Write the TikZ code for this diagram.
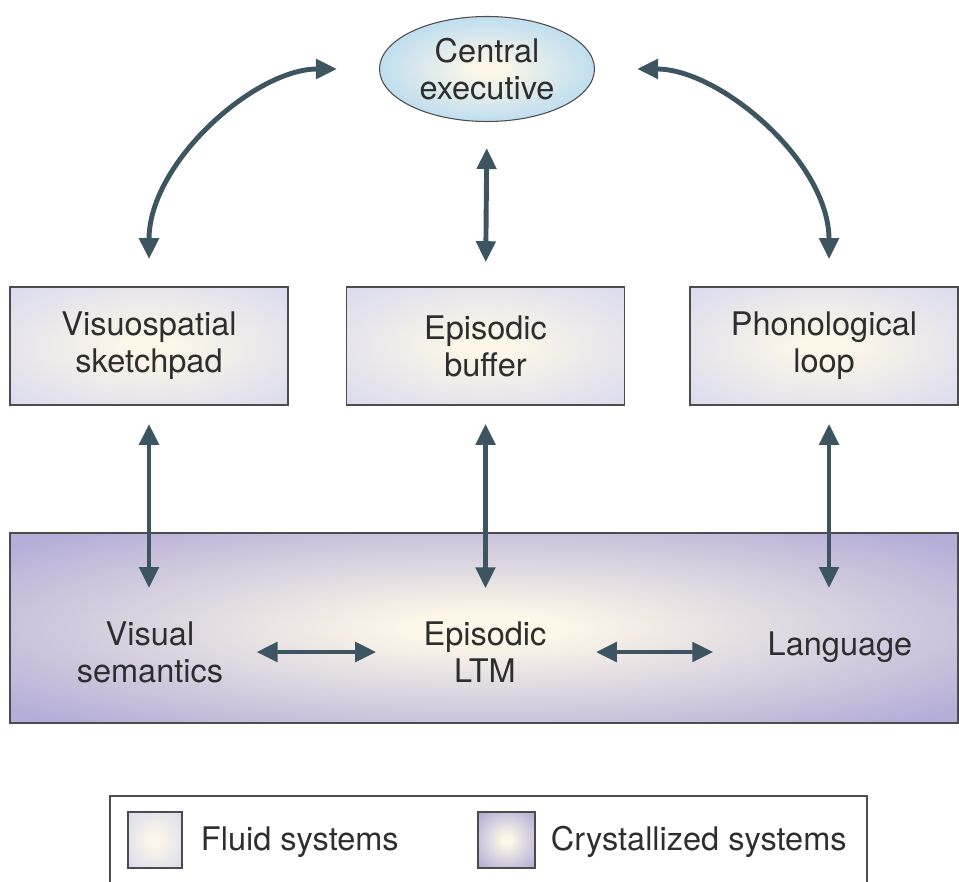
\documentclass[tikz,border=0pt]{standalone}
\usepackage{fontspec}
\setmainfont{TeX Gyre Heros}
\usepackage{xcolor}
\usepackage{tikz}
\usetikzlibrary{shapes}
\usetikzlibrary{arrows.meta}
\usetikzlibrary{calc}

\definecolor{cream}{HTML}{FCF7E8}
\definecolor{fluidEdge}{HTML}{DCDCEE}
\definecolor{crystalEdge}{HTML}{B5AED8}
\definecolor{execEdge}{HTML}{BDDDF0}
\definecolor{arrowInk}{HTML}{3D5461}
\definecolor{textInk}{HTML}{2E2E2E}

\pgfdeclareradialshading{fluidglow}{\pgfpoint{0bp}{0bp}}{%
  color(0bp)=(cream); color(4bp)=(cream); color(34bp)=(fluidEdge); color(50bp)=(fluidEdge)}
\pgfdeclareradialshading{crystalglow}{\pgfpoint{0bp}{0bp}}{%
  color(0bp)=(cream); color(4bp)=(cream); color(33bp)=(crystalEdge); color(50bp)=(crystalEdge)}
\pgfdeclareradialshading{execglow}{\pgfpoint{0bp}{0bp}}{%
  color(0bp)=(cream); color(3bp)=(cream); color(26bp)=(execEdge); color(50bp)=(execEdge)}

\begin{document}
\begin{tikzpicture}
    \tikzstyle{txt} = [
      anchor=center,
      align=center,
      inner sep=0pt,
      text=textInk,
      font=\fontsize{18.5}{21}\selectfont,
    ]
    \tikzstyle{arrow} = [
      line width=2.8pt,
      <->,
      >={Triangle[length=4.2mm,width=3.8mm]},
      draw=arrowInk,
    ]
    \tikzstyle{exec} = [
      ellipse,
      txt,
      draw=black!70,
      line width=0.6pt,
      shading=execglow,
      minimum width=4.3cm,
      minimum height=2.1cm,
    ]
    \tikzstyle{fluid} = [
      txt,
      draw=black!70,
      line width=0.9pt,
      shading=fluidglow,
      minimum width=5.56cm,
      minimum height=2.36cm,
    ]
    \tikzstyle{crystal} = [
      draw=black!70,
      line width=0.9pt,
      shading=crystalglow,
      minimum width=18.96cm,
      minimum height=3.8cm,
    ]
    \tikzstyle{swatch} = [
      draw=black!70,
      line width=0.7pt,
      minimum width=1.08cm,
      minimum height=1.12cm,
    ]

    \useasboundingbox (0,0) rectangle (19.18,-17.62);

    \newcommand{\boxrow}[0]{-6.92}
    \newcommand{\ltmrow}[0]{-13.04}

    % central executive
    {
      \node[exec] (ce) at (9.74,-1.38) {Central\\executive};
    }

    % slave systems
    {
      \node[fluid] (vsBox) at (2.98,\boxrow) {Visuospatial\\sketchpad};
      \node[fluid] (ebBox) at (9.71,\boxrow) {Episodic\\buffer};
      \node[fluid, minimum width=5.36cm] (plBox) at (16.48,\boxrow) {Phonological\\loop};
    }

    % long-term memory
    {
      \node[crystal] (ltmBox) at (9.68,-12.56) {};
      \node[txt] (vsem) at (3.0,\ltmrow) {Visual\\semantics};
      \node[txt] (ltm) at (9.7,\ltmrow) {Episodic\\LTM};
      \node[txt] (lang) at (16.8,-12.94) {Language};
    }

    % executive links
    {
      \draw[arrow, shorten <=0.54cm, shorten >=0.84cm]
        (vsBox.north) to[out=90, in=180] (ce.west);
      \draw[arrow, shorten <=0.54cm, shorten >=0.84cm]
        ([xshift=1mm] plBox.north) to[out=90, in=0] (ce.east);
      \draw[arrow, shorten <=0.52cm, shorten >=0.48cm] (ce.south) -- (ebBox.north);
    }

    % buffers to long-term memory
    {
      \draw[arrow, shorten <=0.36cm, shorten >=0.66cm] (vsBox.south) -- (vsBox.south |- vsem.north);
      \draw[arrow, shorten <=0.36cm, shorten >=0.66cm] (ebBox.south) -- (ebBox.south |- ltm.north);
      \draw[arrow, shorten <=0.36cm, shorten >=0.66cm] ([xshift=1mm] plBox.south) -- ([xshift=1mm] plBox.south |- vsem.north);
    }

    % links inside long-term memory
    {
      \draw[arrow, shorten <=0.66cm, shorten >=0.94cm] (vsem.east) -- (ltm.west);
      \draw[arrow, shorten <=0.98cm, shorten >=1.08cm] (ltm.east) -- (ltm.east -| lang.west);
    }

    % legend
    {
      \draw[draw=black!70, line width=0.8pt] (2.2,-18.2) rectangle (17.34,-15.92);
      \node[swatch, shading=fluidglow] (fluidKey) at (3.10,-16.80) {};
      \node[txt, anchor=west] (fluidText) at ([xshift=0.36cm, yshift=-0.04cm] fluidKey.east) {Fluid systems};
      \node[swatch, shading=crystalglow, minimum width=1.14cm] (crystalKey) at (10.13,-16.80) {};
      \node[txt, anchor=west] (crystalText) at ([xshift=0.3cm, yshift=-0.04cm] crystalKey.east) {Crystallized systems};
    }
\end{tikzpicture}
\end{document}
